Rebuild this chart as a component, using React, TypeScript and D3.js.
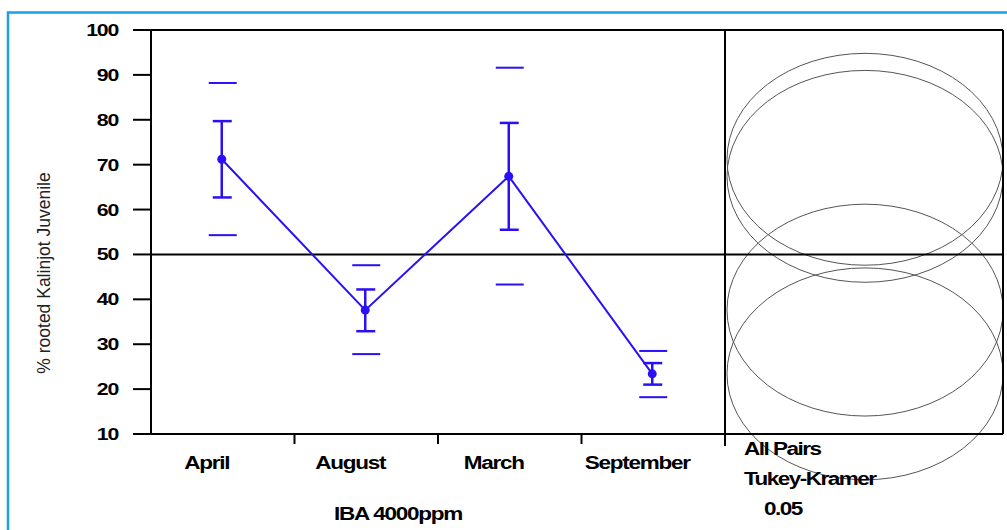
import React from 'react';
import * as d3 from 'd3';

// Group means and interval ends
const categories = ['April', 'August', 'March', 'September'];
const means = [71.2, 37.6, 67.4, 23.4];
const errUpper = [79.7, 42.2, 79.3, 25.8];
const errLower = [62.7, 32.9, 55.5, 21.0];
const outerUpper = [88.2, 47.6, 91.6, 28.5];
const outerLower = [54.3, 27.8, 43.3, 18.2];
const yTicks = [10, 20, 30, 40, 50, 60, 70, 80, 90, 100];
const refLine = 50;
const circleRadius = 23.6; // comparison circle radius (y units)
const legendLines = ['All Pairs', 'Tukey-Kramer', '0.05'];

const W = 1007;
const H = 530;
const BLUE = '#2a10f5';
const FONT = '"Liberation Sans", Arial, sans-serif';
const STRETCH = 1.25; // the original text is drawn horizontally stretched

// bold, stretched label
const Label = ({ x, y, anchor = 'middle', size = 18, spacing = -1, children }: any) => (
  <text
    transform={`translate(${x},${y}) scale(${STRETCH},1)`}
    textAnchor={anchor}
    fontSize={size}
    fontWeight="bold"
    letterSpacing={spacing}
  >
    {children}
  </text>
);

export default function App() {
  const left = 151;
  const divider = 725;
  const right = 1003;
  const top = 30;
  const bottom = 434;

  const y = d3.scaleLinear().domain([10, 100]).range([bottom, top]);
  const x = d3.scaleBand<string>().domain(categories).range([left, divider]);
  const cx = (c: string) => (x(c) ?? 0) + x.bandwidth() / 2 - 1;

  // circles panel: x radius in pixels spans the panel width
  const panelCx = (divider + right) / 2 + 1;
  const rxPx = (right - divider) / 2 - 1;
  const ryPx = y(10) - y(10 + circleRadius);

  const line = d3
    .line<number>()
    .x((_, i) => cx(categories[i]))
    .y((d) => y(d));

  const tickBounds = categories.slice(1).map((c) => x(c) ?? 0);

  return (
    <svg
      width={W}
      height={H}
      style={{ position: 'absolute', left: 0, top: 0, background: '#fff' }}
      fontFamily={FONT}
    >
      <rect x={8} y={12.5} width={W + 10} height={H + 10} fill="#fff" stroke="#1ea0e0" strokeWidth={2.5} />

      {/* comparison circles */}
      <g fill="none" stroke="#555" strokeWidth={1}>
        {means.map((m, i) => (
          <ellipse key={i} cx={panelCx} cy={y(m)} rx={rxPx} ry={ryPx} />
        ))}
      </g>

      {/* frame */}
      <g stroke="#000" strokeWidth={2} fill="none">
        <line x1={left} x2={right} y1={top} y2={top} />
        <line x1={right} x2={right} y1={top} y2={bottom} />
        <line x1={left} x2={right} y1={bottom} y2={bottom} />
        <line x1={left} x2={left} y1={top} y2={bottom} />
        <line x1={divider} x2={divider} y1={top} y2={bottom + 12} />
        <line x1={left} x2={right} y1={y(refLine)} y2={y(refLine)} />
        {yTicks.map((t) => (
          <line key={t} x1={left - 18} x2={left} y1={y(t)} y2={y(t)} />
        ))}
        {tickBounds.map((b, i) => (
          <line key={i} x1={b} x2={b} y1={bottom} y2={bottom + 10} />
        ))}
      </g>

      {/* y tick labels */}
      {yTicks.map((t) => (
        <Label key={t} x={left - 33} y={y(t) + 6} anchor="end" size={17}>
          {t}
        </Label>
      ))}

      <text
        transform={`translate(50,${273}) rotate(-90)`}
        textAnchor="middle"
        fontSize={17.5}
        fontFamily='"Liberation Sans Narrow", "Liberation Sans", Arial, sans-serif'
        fill="#222"
      >
        % rooted Kalinjot Juvenile
      </text>

      {/* x labels */}
      {categories.map((c) => (
        <Label key={c} x={cx(c) - 15} y={469}>
          {c}
        </Label>
      ))}
      <Label x={398} y={520}>
        IBA 4000ppm
      </Label>

      {/* legend text */}
      {legendLines.map((s, i) => (
        <Label key={s} x={i === 2 ? 764 : 744} y={455 + i * 30} anchor="start" size={18} spacing={-1.2}>
          {s}
        </Label>
      ))}

      {/* outer interval marks */}
      <g stroke={BLUE} strokeWidth={2}>
        {categories.map((c, i) => (
          <g key={c}>
            <line x1={cx(c) - 13} x2={cx(c) + 15} y1={y(outerUpper[i])} y2={y(outerUpper[i])} />
            <line x1={cx(c) - 13} x2={cx(c) + 15} y1={y(outerLower[i])} y2={y(outerLower[i])} />
          </g>
        ))}
      </g>

      {/* error bars */}
      <g stroke={BLUE} strokeWidth={2.5}>
        {categories.map((c, i) => (
          <g key={c}>
            <line x1={cx(c)} x2={cx(c)} y1={y(errUpper[i])} y2={y(errLower[i])} />
            <line x1={cx(c) - 9} x2={cx(c) + 10} y1={y(errUpper[i])} y2={y(errUpper[i])} />
            <line x1={cx(c) - 9} x2={cx(c) + 10} y1={y(errLower[i])} y2={y(errLower[i])} />
          </g>
        ))}
      </g>

      <path d={line(means) ?? ''} fill="none" stroke={BLUE} strokeWidth={2} />
      {means.map((m, i) => (
        <circle key={i} cx={cx(categories[i])} cy={y(m)} r={4.5} fill={BLUE} />
      ))}
    </svg>
  );
}
